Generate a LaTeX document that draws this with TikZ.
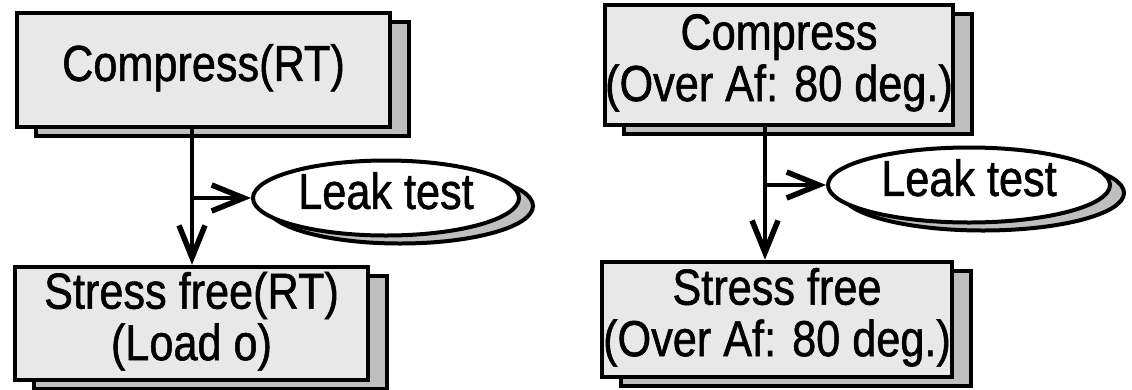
\documentclass[tikz,border=0pt]{standalone}
\usepackage{fontspec}
\usepackage{graphicx}
\setmainfont{Liberation Sans}[FakeBold=1.2]
\usetikzlibrary{arrows.meta,shadows,shapes.geometric}
% narrow, tall lettering used in every label
\newcommand\tx[1]{\scalebox{0.94}[1.1]{\fontsize{46}{45}\selectfont\begin{tabular}{@{}c@{}}#1\end{tabular}}}
\begin{document}
\begin{tikzpicture}[x=1pt,y=-1pt,
  stepbox/.style={rectangle, draw, line width=4.5pt, fill=gray!18, inner sep=0pt,
    copy shadow={shadow xshift=19pt, shadow yshift=-9pt, fill=gray!50, draw=black, line width=4.5pt}},
  testbox/.style={ellipse, draw, line width=4pt, fill=white, inner sep=0pt,
    copy shadow={shadow xshift=14pt, shadow yshift=-8pt, fill=gray!50, draw=black, line width=4pt}},
  flow/.style={line width=3.5pt, -{Straight Barb[length=32pt,width=26pt,line width=5.5pt]}}]
\useasboundingbox (0,0) rectangle (1132,389);

% left process: compression at room temperature
\node[stepbox, minimum width=373pt, minimum height=114pt] (c1) at (203.5,70) {\tx{Compress(RT)}};
\node[stepbox, minimum width=353pt, minimum height=113pt] (s1) at (191.5,323.5) {\raisebox{-6pt}{\tx{Stress free(RT)\\(Load o)}}};
\node[testbox, minimum width=266pt, minimum height=75pt] (l1) at (386,198) {\tx{Leak test}};
\coordinate (j1) at (192,198);
\draw[flow] (c1.south -| j1) -- (s1.north -| j1);
\draw[flow] (j1) -- (l1.west);

% right process: compression above Af
\node[stepbox, minimum width=338pt, minimum height=120pt] (c2) at (779,65) {\tx{Compress\\(Over Af: 80 deg.)}};
\node[stepbox, minimum width=350pt, minimum height=115pt] (s2) at (777,319.5) {\tx{Stress free\\(Over Af: 80 deg.)}};
\node[testbox, minimum width=282pt, minimum height=75pt] (l2) at (969,185) {\tx{Leak test}};
\coordinate (j2) at (765,185);
\draw[flow] (c2.south -| j2) -- (s2.north -| j2);
\draw[flow] (j2) -- (l2.west);
\end{tikzpicture}
\end{document}
